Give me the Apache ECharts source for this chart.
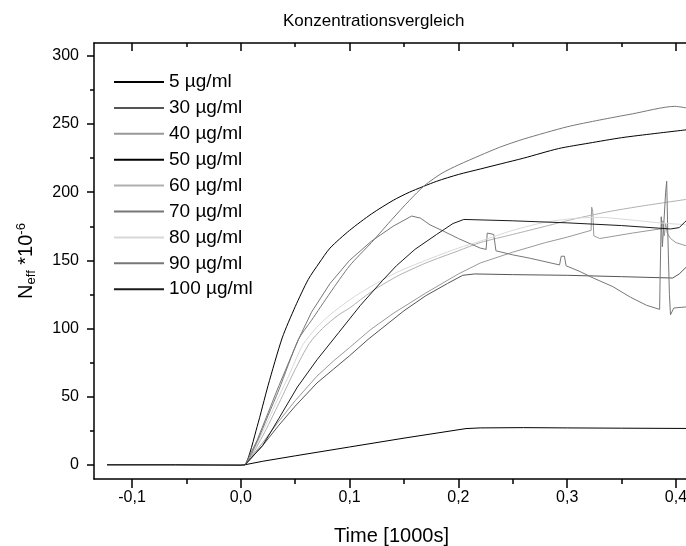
<!DOCTYPE html>
<html>
<head>
<meta charset="utf-8">
<script src="https://cdn.jsdelivr.net/npm/echarts@6/dist/echarts.min.js"></script>
<style>
html,body{margin:0;padding:0;background:#fff;}
#chart{width:686px;height:546px;}
</style>
</head>
<body>
<div id="chart"></div>
<script>
// ---- data (t in 1000 s, N_eff * 1e-6) ----
const seriesNames = ['5 µg/ml','30 µg/ml','40 µg/ml','50 µg/ml','60 µg/ml','70 µg/ml','80 µg/ml','90 µg/ml','100 µg/ml'];
const baseline = [[-0.123,0],[-0.06,0],[0,-0.4]];
const conc5 = [[0.004,0],[0.02,2.5],[0.05,6.5],[0.1,13],[0.15,19.5],[0.207,26.5],[0.22,27],[0.26,27.2],[0.3,27],[0.35,26.8],[0.412,26.6]];
const conc30 = [[0.004,0],[0.02,14],[0.035,29],[0.05,43],[0.07,60],[0.085,70],[0.1,80],[0.117,92],[0.128,99],[0.15,113],[0.17,124],[0.19,133],[0.204,139],[0.215,140],[0.25,139.5],[0.3,139],[0.35,138],[0.397,137],[0.403,140],[0.412,147]];
const conc40 = [[0.004,0],[0.02,16],[0.035,32],[0.05,47],[0.07,65],[0.085,76],[0.1,86],[0.119,99],[0.14,111],[0.17,126],[0.2,140],[0.22,148],[0.25,156],[0.28,163],[0.3,167],[0.322,172],[0.3225,189],[0.3235,186],[0.3245,168],[0.33,166],[0.36,170],[0.385,173],[0.387,172],[0.388,179],[0.3893,168],[0.3905,177],[0.392,170],[0.395,166],[0.4,163],[0.412,160]];
const conc50 = [[0.004,0],[0.015,28],[0.025,58],[0.038,93],[0.05,116],[0.062,136],[0.072,148],[0.082,159],[0.1,172],[0.12,184],[0.14,194],[0.155,200],[0.18,208],[0.2,213],[0.22,217],[0.24,221],[0.26,225],[0.292,232],[0.32,236],[0.35,240],[0.38,243],[0.412,246]];
const conc60 = [[0.004,0],[0.02,21],[0.035,45],[0.05,70],[0.063,89],[0.075,100],[0.09,110],[0.1,115],[0.12,127],[0.143,138],[0.17,148],[0.2,157],[0.22,163],[0.25,169],[0.28,175],[0.31,181],[0.34,186],[0.37,190],[0.412,195]];
const conc70 = [[0.004,0],[0.015,18],[0.025,38],[0.035,58],[0.053,92],[0.065,112],[0.082,133],[0.1,150],[0.12,164],[0.14,175],[0.157,182.5],[0.165,181],[0.174,176],[0.186,171.5],[0.2,166],[0.22,159],[0.2255,158],[0.2265,170],[0.2325,169],[0.2345,157],[0.25,154],[0.266,151.5],[0.293,146.6],[0.2945,153],[0.2975,153],[0.299,146],[0.312,141.7],[0.324,137],[0.342,130.7],[0.358,123],[0.373,117],[0.385,114],[0.3855,140],[0.3865,182],[0.3875,160],[0.3885,172],[0.3905,200],[0.3915,208],[0.3925,170],[0.394,125],[0.395,110],[0.396,109],[0.398,115],[0.412,116]];
const conc80 = [[0.004,0],[0.02,24],[0.035,50],[0.045,67],[0.057,88],[0.07,101],[0.082,110],[0.1,121],[0.12,131],[0.143,141],[0.17,150],[0.2,159],[0.22,164],[0.25,172],[0.28,178],[0.31,181],[0.33,181.5],[0.36,179.5],[0.385,177.5],[0.412,176]];
const conc90 = [[0.004,0],[0.015,17],[0.025,36],[0.035,55],[0.053,92],[0.065,106],[0.082,126],[0.1,146],[0.12,163],[0.14,181],[0.155,194],[0.169,205],[0.185,214],[0.2,220],[0.22,227],[0.238,233],[0.26,239],[0.3,248],[0.33,253],[0.36,257.5],[0.399,263],[0.412,261.5]];
const conc100 = [[0.004,0],[0.02,14],[0.035,34],[0.052,57],[0.07,77],[0.09,97],[0.11,117],[0.13,135],[0.143,146],[0.16,158],[0.18,169],[0.195,177],[0.205,180],[0.25,179],[0.3,177.5],[0.35,175.5],[0.395,173],[0.403,174],[0.408,178],[0.412,181]];
const seriesData = [conc5, conc30, conc40, conc50, conc60, conc70, conc80, conc90, conc100];
const xMajorTicks = [-0.1, 0, 0.1, 0.2, 0.3, 0.4];
const xMinorTicks = [-0.05, 0.05, 0.15, 0.25, 0.35];
const yMajorTicks = [0, 50, 100, 150, 200, 250, 300];
const yMinorTicks = [25, 75, 125, 175, 225, 275];

// ---- styling ----
const colors = ['#000000','#555555','#999999','#000000','#b0b0b0','#777777','#d8d8d8','#777777','#1a1a1a'];
const smoothing = [false, false, false, 0.25, 0.25, false, 0.25, 0.25, false];
const FONT = '"Liberation Sans", Arial, sans-serif';
const X_MIN = -0.135, X_MAX = 0.412, Y_MIN = -10.5, Y_MAX = 309.5;
const lineCol = '#000';

function xAx(pos, ticks, len, inside, showLine, showLabel, extra) {
  return Object.assign({
    type: 'value', position: pos, min: X_MIN, max: X_MAX,
    axisLine: {show: showLine, onZero: false, lineStyle: {color: lineCol, width: 1.5}},
    axisTick: {show: true, inside: inside, length: len, customValues: ticks, lineStyle: {color: lineCol, width: 1.5}},
    axisLabel: showLabel ? {
      show: true, customValues: xMajorTicks, margin: 11, color: '#000', fontFamily: FONT, fontSize: 16,
      formatter: v => v.toFixed(1).replace('.', ',')
    } : {show: false},
    splitLine: {show: false}
  }, extra || {});
}
function yAx(pos, ticks, len, inside, showLine, showLabel, extra) {
  return Object.assign({
    type: 'value', position: pos, min: Y_MIN, max: Y_MAX,
    axisLine: {show: showLine, onZero: false, lineStyle: {color: lineCol, width: 1.5}},
    axisTick: {show: true, inside: inside, length: len, customValues: ticks, lineStyle: {color: lineCol, width: 1.5}},
    axisLabel: showLabel ? {
      show: true, customValues: yMajorTicks, margin: 15, color: '#000', fontFamily: FONT, fontSize: 16
    } : {show: false},
    splitLine: {show: false}
  }, extra || {});
}

const chart = echarts.init(document.getElementById('chart'), null, {renderer: 'canvas'});
chart.setOption({
  animation: false,
  backgroundColor: '#fff',
  title: {
    text: 'Konzentrationsvergleich', left: 283, top: 13, padding: 0,
    textStyle: {fontFamily: FONT, fontSize: 17, fontWeight: 'normal', color: '#000'}
  },
  legend: {
    orient: 'vertical', left: 113, top: 72, padding: 0,
    itemWidth: 50, itemHeight: 20, itemGap: 5.9,
    data: seriesNames,
    itemStyle: {opacity: 0},
    textStyle: {fontFamily: FONT, fontSize: 19, color: '#000', lineHeight: 20},
    selectedMode: false
  },
  grid: {left: 94, right: -3, top: 43, bottom: 67, containLabel: false, outerBoundsMode: 'none'},
  xAxis: [
    xAx('bottom', xMajorTicks, 9, false, true, true, {
      name: 'Time [1000s]', nameLocation: 'middle', nameGap: 47,
      nameTextStyle: {fontFamily: FONT, fontSize: 20, color: '#000'}
    }),
    xAx('bottom', xMinorTicks, 5, false, false, false),
    xAx('top', xMajorTicks, 8, true, true, false),
    xAx('top', xMinorTicks, 4, true, false, false)
  ],
  yAxis: [
    yAx('left', yMajorTicks, 7, false, true, true, {
      name: '{n|N}{sub|eff}{n| *10}{sup|-6}', nameLocation: 'middle', nameGap: 56,
      nameTextStyle: {
        fontFamily: FONT, fontSize: 20, color: '#000',
        rich: {
          n: {fontFamily: FONT, fontSize: 20, color: '#000'},
          sub: {fontFamily: FONT, fontSize: 13, color: '#000', verticalAlign: 'bottom', padding: [10,0,0,0]},
          sup: {fontFamily: FONT, fontSize: 13, color: '#000', verticalAlign: 'top', padding: [0,0,10,0]}
        }
      }
    }),
    yAx('left', yMinorTicks, 4, false, false, false)
  ],
  series: seriesData.map((d, i) => ({
    name: seriesNames[i],
    type: 'line',
    xAxisIndex: 0, yAxisIndex: 0,
    data: baseline.concat(d),
    symbol: 'none',
    smooth: smoothing[i],
    lineStyle: {color: colors[i], width: 1},
    itemStyle: {color: colors[i]},
    emphasis: {disabled: true}
  }))
});
</script>
</body>
</html>
